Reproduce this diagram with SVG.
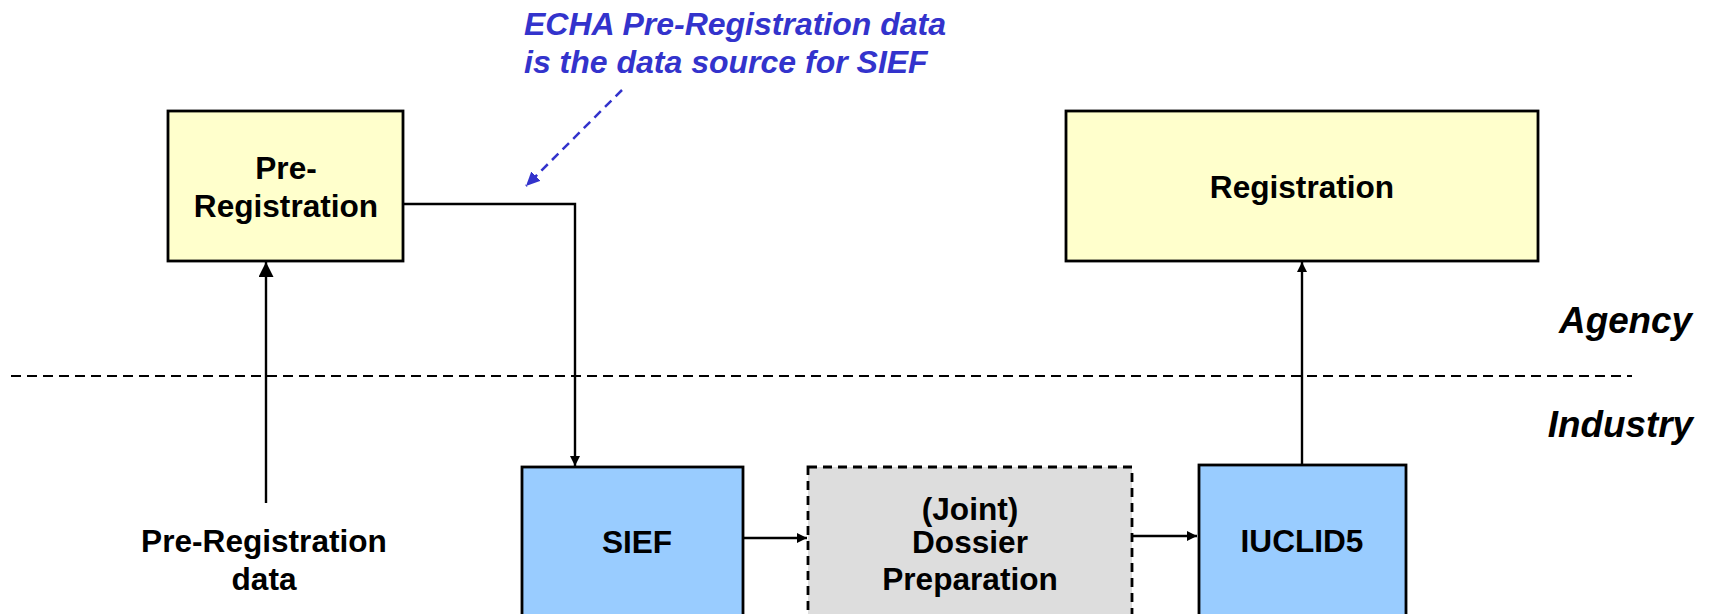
<svg xmlns="http://www.w3.org/2000/svg" width="1711" height="614" viewBox="0 0 1711 614">
<defs>
<style>
.box{stroke:#000;stroke-width:2.8}
.yel{fill:#FFFFCC}
.blu{fill:#99CCFF}
.gry{fill:#DDDDDD;stroke-dasharray:9 6}
.lbl{font-family:"Liberation Sans",Arial,sans-serif;font-weight:bold;font-size:31.6px;fill:#000;text-anchor:middle}
.side{font-family:"Liberation Sans",Arial,sans-serif;font-weight:bold;font-style:italic;font-size:36.8px;fill:#000;text-anchor:end}
.note{font-family:"Liberation Sans",Arial,sans-serif;font-weight:bold;font-style:italic;font-size:32px;fill:#3333CC}
.con{fill:none;stroke:#000;stroke-width:2.4}
</style>
<marker id="ah" markerUnits="userSpaceOnUse" markerWidth="12" markerHeight="10" refX="10" refY="5" orient="auto"><path d="M0,0 L10,5 L0,10 Z" fill="#000"/></marker>
<marker id="ahBig" markerUnits="userSpaceOnUse" markerWidth="16" markerHeight="16" refX="15" refY="7.5" orient="auto"><path d="M0,0 L15,7.5 L0,15 Z" fill="#000"/></marker>
<marker id="ahBlue" markerUnits="userSpaceOnUse" markerWidth="16" markerHeight="14" refX="14" refY="6.5" orient="auto"><path d="M0,0 L14,6.5 L0,13 Z" fill="#3333CC"/></marker>
</defs>
<rect width="1711" height="614" fill="#fff"/>

<g id="lane-divider">
<line x1="11" y1="376" x2="1632" y2="376" stroke="#000" stroke-width="2" stroke-dasharray="10 6"/>
<text class="side" x="1692" y="333">Agency</text>
<text class="side" x="1693" y="437">Industry</text>
</g>

<g id="note">
<text class="note" x="524" y="35">ECHA Pre-Registration data</text>
<text class="note" x="524" y="73">is the data source for SIEF</text>
</g>

<g id="connectors">
<path class="con" d="M266,503 V262" marker-end="url(#ahBig)"/>
<path class="con" d="M404,204 H575 V466" marker-end="url(#ah)"/>
<path class="con" d="M743,538 H807" marker-end="url(#ah)"/>
<path class="con" d="M1132,536 H1197" marker-end="url(#ah)"/>
<path class="con" d="M1302,465 V262" marker-end="url(#ah)"/>
<path d="M622,90 L526,186" fill="none" stroke="#3333CC" stroke-width="2.5" stroke-dasharray="9 6" marker-end="url(#ahBlue)"/>
</g>

<g id="pre-registration">
<rect class="box yel" x="168" y="111" width="235" height="150"/>
<text class="lbl" x="286" y="179">Pre-</text>
<text class="lbl" x="286" y="217">Registration</text>
</g>

<g id="registration">
<rect class="box yel" x="1066" y="111" width="472" height="150"/>
<text class="lbl" x="1302" y="198">Registration</text>
</g>

<g id="pre-registration-data">
<text class="lbl" x="264" y="552">Pre-Registration</text>
<text class="lbl" x="264" y="590">data</text>
</g>

<g id="sief">
<rect class="box blu" x="522" y="467" width="221" height="160"/>
<text class="lbl" x="637" y="553">SIEF</text>
</g>

<g id="dossier">
<rect class="box gry" x="808" y="467" width="324" height="160"/>
<text class="lbl" x="970" y="520">(Joint)</text>
<text class="lbl" x="970" y="553">Dossier</text>
<text class="lbl" x="970" y="590">Preparation</text>
</g>

<g id="iuclid5">
<rect class="box blu" x="1199" y="465" width="207" height="162"/>
<text class="lbl" x="1302" y="552">IUCLID5</text>
</g>
</svg>
